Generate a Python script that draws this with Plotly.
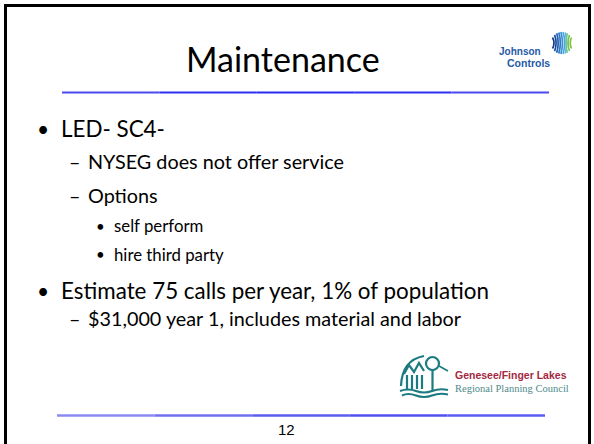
import math
import plotly.graph_objects as go

# ---- slide content ----
title_text = "Maintenance"
bullet_texts = [
    "LED- SC4-",
    "NYSEG does not offer service",
    "Options",
    "self perform",
    "hire third party",
    "Estimate 75 calls per year, 1% of population",
    "$31,000 year 1, includes material and labor",
]
bullet_levels = [1, 2, 2, 3, 3, 1, 2]
bullet_rows = [128, 161, 195, 225.5, 254, 290, 318]
page_number = "12"
jc_words = ["Johnson", "Controls"]
gflrpc_words = ["Genesee/Finger Lakes", "Regional Planning Council"]

W, H = 594, 444
BODY_FONT = "Lato, 'Open Sans', sans-serif"

level_style = {
    1: dict(marker="•", mx=43, tx=59, size=22.4, msize=21),
    2: dict(marker="–", mx=74.5, tx=85.5, size=19.8, msize=19.8),
    3: dict(marker="•", mx=100, tx=111.5, size=16.8, msize=15),
}

fig = go.Figure()
fig.add_trace(go.Scatter(x=[0, W], y=[0, H], mode="markers",
                         marker=dict(opacity=0), hoverinfo="skip", showlegend=False))

shapes = []
annotations = []

# slide frame
shapes.append(dict(type="rect", x0=5.5, y0=5.5, x1=589.5, y1=470,
                   line=dict(color="black", width=3), layer="above"))

# rules (slight gradient by segments)
def rule(x0, x1, y, colors, width):
    n = len(colors)
    step = (x1 - x0) / n
    for i, c in enumerate(colors):
        shapes.append(dict(type="line", x0=x0 + i * step, x1=x0 + (i + 1) * step,
                           y0=y, y1=y, line=dict(color=c, width=width)))

rule(62, 549, 92.5, ["#4a4af0", "#2f2ff2", "#2a2af2", "#2f2ff2", "#4a4af0"], 2)
rule(57, 545, 415.5, ["#8a8af2", "#7070f0", "#5c5cf0", "#5050f0", "#5c5cf4"], 2.5)

# title
annotations.append(dict(x=283, y=58, text=title_text, showarrow=False,
                        xanchor="center", yanchor="middle",
                        font=dict(family=BODY_FONT, size=34, color="black")))

# bullets
for txt, lvl, yy in zip(bullet_texts, bullet_levels, bullet_rows):
    st = level_style[lvl]
    annotations.append(dict(x=st["mx"], y=yy, text=st["marker"], showarrow=False,
                            xanchor="center", yanchor="middle",
                            font=dict(family=BODY_FONT, size=st["msize"], color="black")))
    annotations.append(dict(x=st["tx"], y=yy, text=txt, showarrow=False,
                            xanchor="left", yanchor="middle",
                            font=dict(family=BODY_FONT, size=st["size"], color="black")))

# page number
annotations.append(dict(x=286, y=429, text=page_number, showarrow=False,
                        xanchor="center", yanchor="middle",
                        font=dict(family="Liberation Sans, Arial", size=15, color="black")))

# Johnson Controls logo
jc_blue = "#1f5aa6"
annotations.append(dict(x=543, y=51, text="<b>" + jc_words[0] + "</b>", showarrow=False,
                        xanchor="right", yanchor="middle",
                        font=dict(family="Liberation Sans, Arial", size=10, color=jc_blue)))
annotations.append(dict(x=552, y=62.5, text="<b>" + jc_words[1] + "</b>", showarrow=False,
                        xanchor="right", yanchor="middle",
                        font=dict(family="Liberation Sans, Arial", size=10.5, color=jc_blue)))
stripe_cols = ["#173a86", "#1c4b9e", "#2260b4", "#2b76c6", "#3a8fd6", "#4ea8e0",
               "#5fbcd8", "#6cc49a", "#78c45a", "#82c440"]
cx, cy, r = 562, 43, 11
n = len(stripe_cols)
for i, c in enumerate(stripe_cols):
    dx = -r + 1.5 + i * (2 * r - 3) / (n - 1)
    hh = math.sqrt(max(r * r - dx * dx, 4))
    xo = cx + dx
    bend = 3.0 if i < n - 3 else -2.5
    shapes.append(dict(type="path",
                       path=f"M {xo:.1f},{cy + hh:.1f} Q {xo + bend:.1f},{cy:.1f} {xo:.1f},{cy - hh:.1f}",
                       line=dict(color=c, width=1.7)))

# Genesee / Finger Lakes logo
teal = "#1b7b80"
annotations.append(dict(x=453, y=375, text="<b>" + gflrpc_words[0] + "</b>", showarrow=False,
                        xanchor="left", yanchor="middle",
                        font=dict(family="Liberation Sans, Arial", size=10.5, color="#a3283f")))
annotations.append(dict(x=453, y=388, text=gflrpc_words[1], showarrow=False,
                        xanchor="left", yanchor="middle",
                        font=dict(family="Liberation Serif, 'DejaVu Serif', serif", size=10.5,
                                  color="#4e8a8c")))
# roof arc and buildings
shapes.append(dict(type="path", path="M 401,386 Q 402,360 424,356",
                   line=dict(color=teal, width=2.2)))
shapes.append(dict(type="path", path="M 404,374 L 409,365 L 414,372 L 419,363 L 424,371",
                   line=dict(color=teal, width=2.2)))
for xb in [407, 412, 417, 422]:
    shapes.append(dict(type="line", x0=xb, x1=xb, y0=375, y1=389,
                       line=dict(color=teal, width=2.2)))
# tree
shapes.append(dict(type="circle", x0=426, x1=439, y0=357, y1=370,
                   line=dict(color=teal, width=2.2)))
shapes.append(dict(type="line", x0=432.5, x1=432.5, y0=370, y1=390,
                   line=dict(color=teal, width=2.2)))
shapes.append(dict(type="line", x0=439, x1=448, y0=366, y1=371,
                   line=dict(color=teal, width=1.6)))
# water/ground waves
for k, yw in enumerate([391, 395.5]):
    shapes.append(dict(type="path",
                       path=f"M {400 + k * 2},{yw} Q 408,{yw - 3} 416,{yw} T 432,{yw} T 448,{yw - 1}",
                       line=dict(color=teal, width=2)))

fig.update_layout(
    width=W, height=H,
    margin=dict(l=0, r=0, t=0, b=0),
    paper_bgcolor="white", plot_bgcolor="white",
    xaxis=dict(range=[0, W], visible=False, fixedrange=True),
    yaxis=dict(range=[H, 0], visible=False, fixedrange=True),
    shapes=shapes, annotations=annotations, showlegend=False,
)

fig.write_html("out.html",
               config={"displayModeBar": False},
               post_script="document.body.style.margin='0';document.body.style.overflow='hidden';")
